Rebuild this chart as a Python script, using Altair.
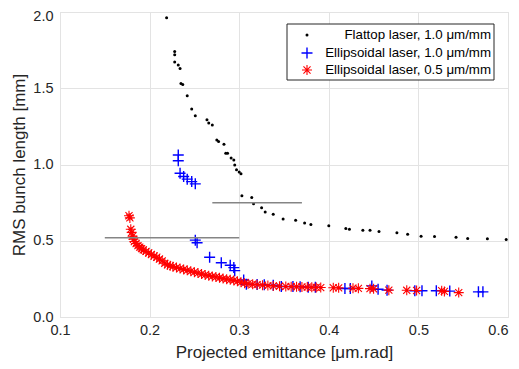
import altair as alt
import pandas as pd

# Flattop laser, 1.0 um/mm
flat_x = [0.219, 0.228, 0.228, 0.228, 0.232, 0.234, 0.235, 0.237, 0.242, 0.247,
          0.251, 0.264, 0.266, 0.270, 0.275, 0.277, 0.283, 0.285, 0.287, 0.291,
          0.294, 0.295, 0.297, 0.300, 0.302, 0.303, 0.314, 0.316, 0.325, 0.329,
          0.338, 0.349, 0.363, 0.373, 0.380, 0.400, 0.419, 0.423, 0.438, 0.446,
          0.456, 0.476, 0.488, 0.503, 0.518, 0.542, 0.555, 0.577, 0.598]
flat_y = [1.963, 1.741, 1.720, 1.672, 1.653, 1.629, 1.531, 1.524, 1.451, 1.364,
          1.320, 1.294, 1.272, 1.259, 1.160, 1.151, 1.132, 1.073, 1.073, 1.042,
          1.029, 0.997, 0.966, 0.951, 0.940, 0.795, 0.784, 0.743, 0.717, 0.689,
          0.673, 0.643, 0.634, 0.617, 0.606, 0.599, 0.580, 0.575, 0.569, 0.569,
          0.560, 0.552, 0.543, 0.530, 0.528, 0.523, 0.515, 0.513, 0.508]

# Ellipsoidal laser, 1.0 um/mm
ell1_x = [0.232, 0.232, 0.234, 0.238, 0.242, 0.247, 0.251, 0.251, 0.253, 0.267,
          0.280, 0.290, 0.294, 0.295, 0.305, 0.308, 0.320, 0.328, 0.338, 0.347,
          0.360, 0.368, 0.377, 0.385, 0.418, 0.424, 0.448, 0.455, 0.465, 0.496,
          0.504, 0.520, 0.535, 0.567, 0.572]
ell1_y = [1.062, 1.025, 0.943, 0.921, 0.904, 0.888, 0.873, 0.504, 0.487, 0.392,
          0.356, 0.339, 0.324, 0.304, 0.243, 0.215, 0.213, 0.212, 0.208, 0.200,
          0.200, 0.199, 0.195, 0.195, 0.187, 0.187, 0.204, 0.182, 0.176, 0.172,
          0.172, 0.172, 0.170, 0.165, 0.165]

# Ellipsoidal laser, 0.5 um/mm
ell05_x = [0.177, 0.178, 0.179, 0.180, 0.181, 0.182, 0.183, 0.185, 0.187, 0.189,
           0.191, 0.193, 0.196, 0.199, 0.202, 0.205, 0.208, 0.211, 0.214, 0.217,
           0.220, 0.223, 0.226, 0.230, 0.234, 0.238, 0.242, 0.246, 0.250, 0.254,
           0.258, 0.262, 0.266, 0.270, 0.274, 0.278, 0.282, 0.286, 0.290, 0.294,
           0.298, 0.302, 0.306, 0.310, 0.315, 0.320, 0.326, 0.332, 0.338, 0.345,
           0.352, 0.358, 0.364, 0.370, 0.376, 0.381, 0.386, 0.391, 0.405, 0.411,
           0.427, 0.433, 0.446, 0.450, 0.467, 0.487, 0.498, 0.526, 0.529, 0.545]
ell05_y = [0.664, 0.650, 0.575, 0.555, 0.530, 0.510, 0.495, 0.482, 0.468, 0.458,
           0.448, 0.440, 0.430, 0.420, 0.410, 0.400, 0.392, 0.380, 0.368, 0.352,
           0.342, 0.336, 0.330, 0.324, 0.318, 0.312, 0.306, 0.300, 0.294, 0.288,
           0.282, 0.276, 0.271, 0.266, 0.262, 0.257, 0.252, 0.248, 0.244, 0.240,
           0.234, 0.228, 0.222, 0.218, 0.215, 0.212, 0.209, 0.206, 0.204, 0.202,
           0.200, 0.199, 0.198, 0.197, 0.196, 0.195, 0.194, 0.193, 0.192, 0.191,
           0.189, 0.188, 0.186, 0.185, 0.176, 0.175, 0.174, 0.172, 0.168, 0.160]

# Reference lines (gray)
ref_x1 = [0.15, 0.27]
ref_x2 = [0.30, 0.37]
ref_y = [0.52, 0.75]

legend_labels = ["Flattop laser, 1.0 μm/mm",
                 "Ellipsoidal laser, 1.0 μm/mm",
                 "Ellipsoidal laser, 0.5 μm/mm"]

x_ticks = [0.1, 0.2, 0.3, 0.4, 0.5, 0.6]
y_ticks = [0.0, 0.5, 1.0, 1.5, 2.0]

FONT = "Liberation Sans"
PLUS = "M-1,0L1,0M0,-1L0,1"
STAR = "M-1,0L1,0M0,-1L0,1M-0.71,-0.71L0.71,0.71M-0.71,0.71L0.71,-0.71"

xscale = alt.Scale(domain=[0.1, 0.6], nice=False, zero=False)
yscale = alt.Scale(domain=[0.0, 2.0], nice=False, zero=False)

xaxis = alt.Axis(title="Projected emittance [μm.rad]", values=x_ticks, format=".1f",
                 grid=True, gridColor="#e3e3e3", domain=False, ticks=False,
                 labelFlush=False, labelOverlap=False, labelPadding=6,
                 labelAlign={"condition": {"test": "datum.value > 0.59", "value": "right"},
                             "value": "center"},
                 labelFontSize=14.5, labelColor="#262626", labelFont=FONT,
                 titleFontSize=17, titleFontWeight="normal", titleColor="#262626",
                 titleFont=FONT, titleY=40, titleBaseline="alphabetic")
yaxis = alt.Axis(title="RMS bunch length [mm]", values=y_ticks, format=".1f",
                 grid=True, gridColor="#e3e3e3", domain=False, ticks=False,
                 labelFlush=False, labelOverlap=False, labelPadding=7,
                 labelOffset={"condition": {"test": "datum.value > 1.9", "value": 4},
                              "value": 0},
                 labelFontSize=14.5, labelColor="#262626", labelFont=FONT,
                 titleFontSize=17, titleFontWeight="normal", titleColor="#262626",
                 titleFont=FONT, titleX=-32, titleBaseline="bottom")

flat_df = pd.DataFrame({"x": flat_x, "y": flat_y})
ell1_df = pd.DataFrame({"x": ell1_x, "y": ell1_y})
ell05_df = pd.DataFrame({"x": ell05_x, "y": ell05_y})
ref_df = pd.DataFrame({"x": ref_x1, "x2": ref_x2, "y": ref_y})

flat = alt.Chart(flat_df).mark_circle(size=9, color="black", opacity=1).encode(
    x=alt.X("x:Q", scale=xscale, axis=xaxis),
    y=alt.Y("y:Q", scale=yscale, axis=yaxis),
)
ell1 = alt.Chart(ell1_df).mark_point(shape=PLUS, filled=False, color="#0000FF",
                                     size=121, strokeWidth=1.4, opacity=1).encode(
    x=alt.X("x:Q", scale=xscale), y=alt.Y("y:Q", scale=yscale))
ell05 = alt.Chart(ell05_df).mark_point(shape=STAR, filled=False, color="#FF0000",
                                       size=100, strokeWidth=1.1, opacity=1).encode(
    x=alt.X("x:Q", scale=xscale), y=alt.Y("y:Q", scale=yscale))
refs = alt.Chart(ref_df).mark_rule(color="#858585", strokeWidth=1.5).encode(
    x=alt.X("x:Q", scale=xscale), x2="x2:Q", y=alt.Y("y:Q", scale=yscale))

one = pd.DataFrame({"k": [0]})
leg_box = alt.Chart(one).mark_rect(fill="white", stroke="#262626", strokeWidth=1).encode(
    x=alt.value(227), x2=alt.value(434), y=alt.value(12), y2=alt.value(68))
leg_rows_y = [23, 41, 58]
leg_sym = [
    alt.Chart(one).mark_circle(size=9, color="black", opacity=1).encode(
        x=alt.value(247), y=alt.value(leg_rows_y[0])),
    alt.Chart(one).mark_point(shape=PLUS, filled=False, color="#0000FF", size=121,
                              strokeWidth=1.4, opacity=1).encode(
        x=alt.value(247), y=alt.value(leg_rows_y[1])),
    alt.Chart(one).mark_point(shape=STAR, filled=False, color="#FF0000", size=100,
                              strokeWidth=1.1, opacity=1).encode(
        x=alt.value(247), y=alt.value(leg_rows_y[2])),
]
leg_txt = [
    alt.Chart(one).mark_text(text=lab, align="right", baseline="middle", font=FONT,
                             fontSize=13.3, color="black").encode(
        x=alt.value(431), y=alt.value(yy))
    for lab, yy in zip(legend_labels, leg_rows_y)
]

chart = alt.layer(flat, ell1, ell05, refs, leg_box, *leg_sym, *leg_txt).properties(
    width=448, height=305,
    autosize=alt.AutoSizeParams(type="none"),
    padding={"left": 52, "top": 4, "right": 3, "bottom": 44},
).configure_view(stroke="#505050", strokeWidth=1).configure(background="white")

chart.save("out.html", embed_options={"renderer": "svg", "actions": False})
